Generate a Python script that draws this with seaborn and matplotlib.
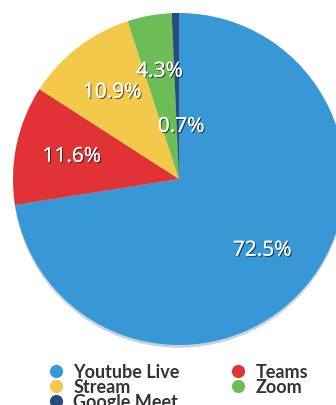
import matplotlib
matplotlib.use("Agg")
import matplotlib.pyplot as plt
import matplotlib.patheffects as pe
from matplotlib.lines import Line2D
import seaborn as sns
import numpy as np

labels = ["Youtube Live", "Teams", "Stream", "Zoom", "Google Meet"]
values = [72.5, 11.6, 10.9, 4.3, 0.7]
colors = ["#3897D5", "#E13335", "#F3C94B", "#6BBE57", "#294A7C"]

sns.set_theme(style="white")
plt.rcParams['font.family'] = ['Noto Sans', 'DejaVu Sans']
palette = sns.color_palette(colors)

W, H = 336, 406
fig = plt.figure(figsize=(W / 100, H / 100), dpi=100)
cx, cy, r = 179, 180, 166
ax = fig.add_axes([(cx - r) / W, (H - cy - r) / H, 2 * r / W, 2 * r / H])

wedges, texts, autotexts = ax.pie(
    values, colors=palette, startangle=90, counterclock=False,
    autopct=lambda p: f"{p:.1f}%", pctdistance=0.66,
    wedgeprops=dict(linewidth=0), radius=1.0,
    shadow=dict(ox=0, oy=-0.012, shade=0.5, alpha=0.25),
    textprops=dict(color="white", fontsize=15))
# the tiny slice label sits closer to the centre
x, y = autotexts[-1].get_position()
autotexts[-1].set_position((x * 0.5 + 0.02, y * 0.48))
for t in autotexts:
    t.set_path_effects([pe.withSimplePatchShadow(offset=(0.8, -0.8), shadow_rgbFace="black", alpha=0.6), pe.Normal()])
ax.set_xlim(-1, 1)
ax.set_ylim(-1, 1)
ax.set_aspect("equal")
ax.axis("off")

order = [0, 2, 4, 1, 3]
handles = [Line2D([], [], marker="o", linestyle="", markersize=9.5,
                  markerfacecolor=palette[i], markeredgewidth=0) for i in order]
leg = fig.legend(handles, [labels[i] for i in order], ncol=2,
                 loc="upper left", bbox_to_anchor=(38 / W, 1 - 355 / H),
                 frameon=False, handletextpad=0.45, columnspacing=2.75,
                 labelspacing=-0.1, borderpad=0, handlelength=1.0,
                 prop=dict(family=["Lato", "DejaVu Sans"], size=13, weight="bold"))
for t in leg.get_texts():
    t.set_color("#333333")

fig.savefig("out.png", dpi=100)
